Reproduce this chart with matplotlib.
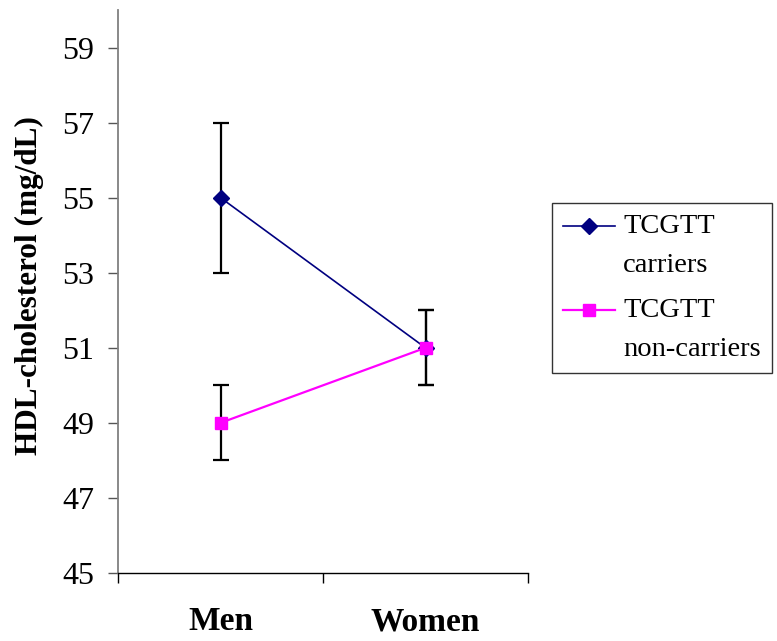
import matplotlib
matplotlib.use("Agg")
import matplotlib.pyplot as plt
import numpy as np
from matplotlib.legend_handler import HandlerLine2D

categories = ["Men", "Women"]
carriers = [55, 51]
carriers_err = [2, 1]
noncarriers = [49, 51]
noncarriers_err = [1, 1]
yticks = [45, 47, 49, 51, 53, 55, 57, 59]

plt.rcParams['font.family'] = ['Liberation Serif', 'DejaVu Serif']

fig = plt.figure(figsize=(7.77, 6.41), dpi=100)
ax = fig.add_axes([118/777, 1-573/641, (528-118)/777, (573-10)/641])

x = np.arange(len(categories)) + 0.5

ax.errorbar(x, carriers, yerr=carriers_err, fmt='none', ecolor='black',
            elinewidth=1.6, capsize=5.5, capthick=1.6, zorder=2)
ax.errorbar(x, noncarriers, yerr=noncarriers_err, fmt='none', ecolor='black',
            elinewidth=1.6, capsize=5.5, capthick=1.6, zorder=2)
ax.plot(x, carriers, color='#000080', lw=1.2, marker='D', markersize=8.5,
        label='TCGTT\ncarriers', zorder=3)
ax.plot(x, noncarriers, color='#FF00FF', lw=1.6, marker='s', markersize=8,
        label='TCGTT\nnon-carriers', zorder=4)

ax.set_xlim(0, 2)
ax.set_ylim(45, 60)
ax.set_yticks(yticks)
ax.set_yticklabels([str(v) for v in yticks], fontsize=23)
ax.set_xticks([0, 1, 2])
ax.set_xticklabels([])
ax.set_xticks(x, minor=True)
ax.set_xticklabels(categories, minor=True, fontsize=24, fontweight='bold')
ax.tick_params(axis='x', which='minor', length=0, pad=24)
ax.tick_params(axis='x', which='major', length=7.2, width=1, color='black', direction='out')
ax.tick_params(axis='y', length=7.2, width=1, color='#555555', direction='out', pad=10)

for s in ['top', 'right']:
    ax.spines[s].set_visible(False)
ax.spines['left'].set_color('#808080')
ax.spines['left'].set_linewidth(1.3)
ax.spines['bottom'].set_color('black')
ax.spines['bottom'].set_linewidth(1)

ax.set_ylabel('HDL-cholesterol (mg/dL)', fontsize=22.5, fontweight='bold')
ax.yaxis.set_label_coords(-0.181, 0.51)


class ShiftedHandler(HandlerLine2D):
    def __init__(self, shift, **kw):
        super().__init__(**kw)
        self.shift = shift

    def create_artists(self, legend, orig_handle, xdescent, ydescent,
                       width, height, fontsize, trans):
        arts = super().create_artists(legend, orig_handle, xdescent, ydescent,
                                      width, height, fontsize, trans)
        for a in arts:
            a.set_ydata(np.asarray(a.get_ydata()) + self.shift)
        return arts


handles, labels = ax.get_legend_handles_labels()
leg = fig.legend(handles, labels, loc='upper left', bbox_to_anchor=(552/777, 1-203/641),
                 fontsize=20.5, frameon=True, fancybox=False, edgecolor='black',
                 handlelength=1.8, handletextpad=0.3, borderpad=0.4,
                 labelspacing=0.7, borderaxespad=0,
                 handler_map={h: ShiftedHandler(14) for h in handles})
leg.get_frame().set_linewidth(1)
for t in leg.get_texts():
    t.set_linespacing(1.72)

fig.savefig('out.png', dpi=100)
